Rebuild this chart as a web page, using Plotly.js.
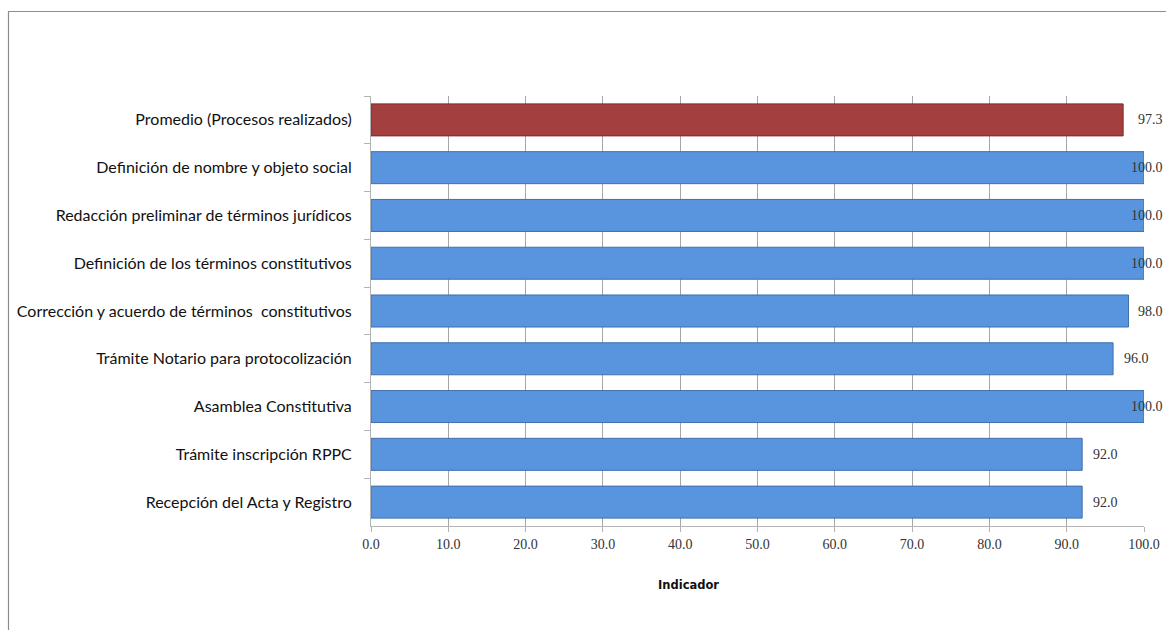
<!DOCTYPE html>
<html>
<head>
<meta charset="utf-8">
<script src="https://cdn.plot.ly/plotly-3.0.1.min.js"></script>
<style>html,body{margin:0;padding:0;background:#fff;overflow:hidden}</style>
</head>
<body>
<div id="chart" style="width:1166px;height:630px"></div>
<script>
// Data (top to bottom as shown)
const categories = [
  "Promedio (Procesos realizados)",
  "Definición de nombre y objeto social",
  "Redacción preliminar de términos jurídicos",
  "Definición de los términos constitutivos",
  "Corrección y acuerdo de términos  constitutivos",
  "Trámite Notario para protocolización",
  "Asamblea Constitutiva",
  "Trámite inscripción RPPC",
  "Recepción del Acta y Registro"
];
const values = [97.3, 100.0, 100.0, 100.0, 98.0, 96.0, 100.0, 92.0, 92.0];
const barColors = ["#a33f3f", "#5895de", "#5895de", "#5895de", "#5895de", "#5895de", "#5895de", "#5895de", "#5895de"];
const lineColors = ["#7a2c2c", "#3f6fae", "#3f6fae", "#3f6fae", "#3f6fae", "#3f6fae", "#3f6fae", "#3f6fae", "#3f6fae"];
const tickValues = [0, 10, 20, 30, 40, 50, 60, 70, 80, 90, 100];
const xTitle = "Indicador";

const W = 1166, H = 630;
const L = 371, R = 22, T = 96, B = 104;
const pw = W - L - R, ph = H - T - B;
const px = x => (x - L) / pw;
const py = y => (H - B - y) / ph;
const xmax = 100;
const labelW = 36; // approx pixel width of "100.0"

const trace = {
  type: "bar",
  orientation: "h",
  x: values,
  y: categories,
  marker: { color: barColors, line: { color: lineColors, width: 1 } },
  hoverinfo: "none"
};

const valueLabels = values.map((v, i) => {
  const endPx = L + (v / xmax) * pw + 9;
  const fits = endPx + labelW < W - 1;
  return fits ? {
    xref: "x", yref: "y", x: v, y: categories[i], xshift: 9,
    xanchor: "left", yanchor: "middle", showarrow: false,
    text: v.toFixed(1),
    font: { family: "Liberation Serif, DejaVu Serif, serif", size: 14, color: "#333" }
  } : {
    xref: "paper", yref: "y", x: px(W - 1), y: categories[i],
    xanchor: "right", yanchor: "middle", showarrow: false,
    text: v.toFixed(1),
    font: { family: "Liberation Serif, DejaVu Serif, serif", size: 14, color: "#333" }
  };
});

const layout = {
  width: W, height: H,
  margin: { l: L, r: R, t: T, b: B, pad: 0 },
  paper_bgcolor: "#fff",
  plot_bgcolor: "#fff",
  showlegend: false,
  bargap: 0.33,
  xaxis: {
    range: [0, xmax],
    tickvals: tickValues,
    ticktext: tickValues.map(v => v.toFixed(1)),
    showgrid: true,
    gridcolor: "#a6a6a6",
    gridwidth: 1,
    zeroline: false,
    showline: true,
    linecolor: "#b3b3b3",
    linewidth: 1,
    ticks: "outside",
    ticklen: 5,
    tickcolor: "#b3b3b3",
    tickfont: { family: "Liberation Serif, DejaVu Serif, serif", size: 14, color: "#333" },
    fixedrange: true
  },
  yaxis: {
    type: "category",
    autorange: "reversed",
    showgrid: false,
    showline: true,
    linecolor: "#b3b3b3",
    linewidth: 1,
    ticks: "outside",
    tickson: "boundaries",
    ticklen: 6,
    tickcolor: "#b3b3b3",
    ticklabelstandoff: 15,
    tickfont: { family: "Lato, Open Sans, sans-serif", size: 16, color: "#111" },
    fixedrange: true
  },
  shapes: [
    {
      type: "rect", xref: "paper", yref: "paper",
      x0: px(8.5), x1: px(1175), y0: py(640), y1: py(11.5),
      line: { color: "#8c8c8c", width: 1.2 }, fillcolor: "rgba(0,0,0,0)", layer: "below"
    }
  ],
  annotations: valueLabels.concat([
    {
      xref: "paper", yref: "paper", x: px(688), y: py(585),
      text: "<b>" + xTitle + "</b>", showarrow: false,
      xanchor: "center", yanchor: "middle",
      font: { family: "DejaVu Sans, sans-serif", size: 11.5, color: "#111" }
    }
  ])
};

Plotly.newPlot("chart", [trace], layout, { displayModeBar: false, staticPlot: true });
</script>
</body>
</html>
